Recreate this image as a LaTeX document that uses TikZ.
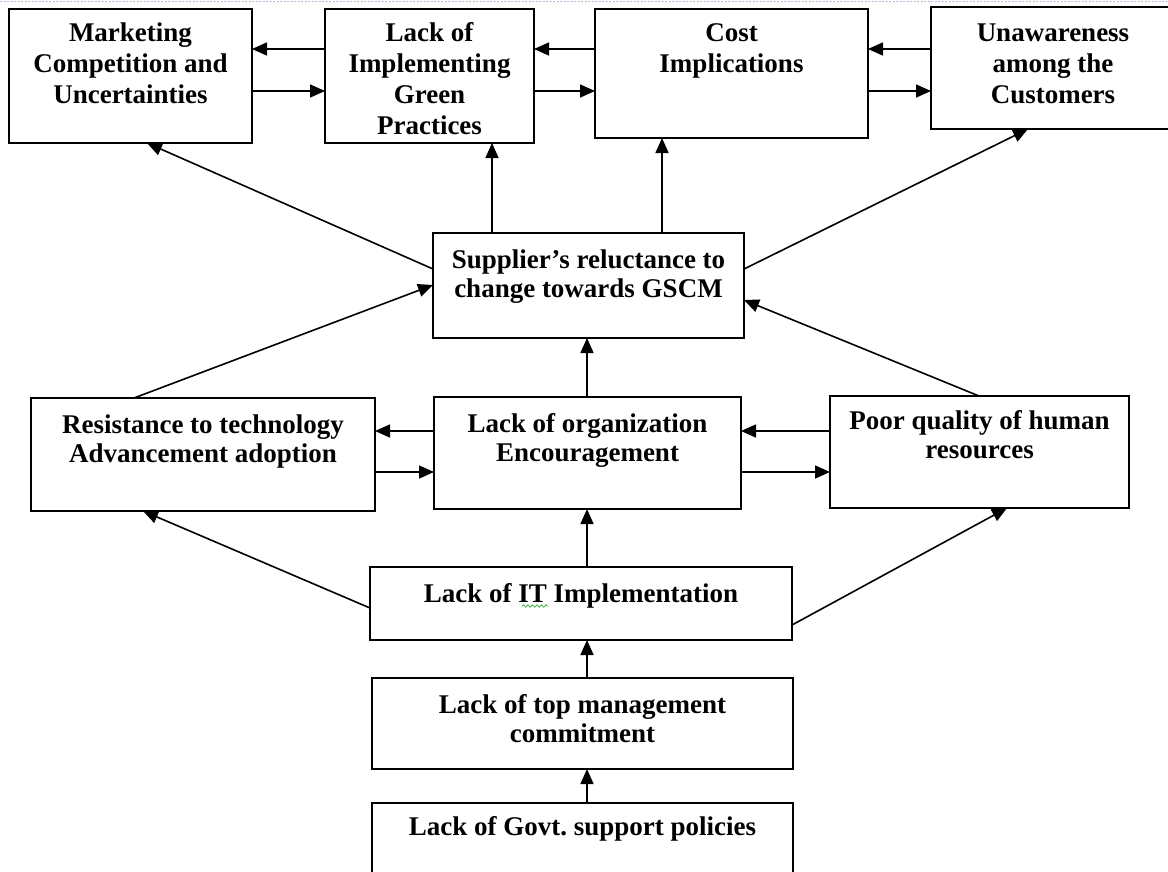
\documentclass[tikz,border=0pt]{standalone}
\usepackage{fontspec}
\setmainfont{Liberation Serif}
\usetikzlibrary{arrows.meta,calc,decorations.pathmorphing}

\definecolor{pageedge}{RGB}{175,190,210}
\definecolor{spellgreen}{RGB}{40,170,40}

% text block of a box: fixed size, lines centred and hung from the top
\newcommand{\boxtext}[4][35pt]{\parbox[c][#3][t]{#2}{\centering\rule{0pt}{#1}#4}}

\tikzset{
  box/.style={draw, line width=1.6pt, inner sep=0pt, outer sep=0pt,
              anchor=north west, font=\fontsize{27}{31}\selectfont\bfseries},
  boxlow/.style={box, font=\fontsize{27}{29}\selectfont\bfseries},
  arr/.style={line width=1.6pt, -{Triangle[length=15pt,width=13pt]}}
}

\begin{document}
\frenchspacing
\begin{tikzpicture}[x=1pt,y=-1pt]
\useasboundingbox (0,0) rectangle (1168,871);

% faint dashed page edge along the top
\draw[pageedge, line width=0.8pt, dash pattern=on 2pt off 1.5pt] (0,1) -- (1168,1);

% top row
\node[box] (mkt) at (9,9) {\boxtext[32pt]{243pt}{134pt}{Marketing\\Competition and\\Uncertainties}};
\node[box] (impl) at (325,9) {\boxtext[32pt]{209pt}{134pt}{Lack of\\Implementing\\Green\\Practices}};
\node[box] (cost) at (595,9) {\boxtext[32pt]{273pt}{129pt}{Cost\\Implications}};
\node[box] (unaw) at (931,7) {\boxtext[34pt]{244pt}{122pt}{Unawareness\\among the\\Customers}};

% centre
\node[boxlow] (sup) at (433,233) {\boxtext[35pt]{311pt}{105pt}{Supplier’s reluctance to\\change towards GSCM}};

% middle row
\node[boxlow] (res) at (31,398) {\boxtext[35pt]{344pt}{113pt}{Resistance to technology\\Advancement adoption}};
\node[boxlow] (org) at (434,397) {\boxtext[35pt]{307pt}{112pt}{Lack of organization\\Encouragement}};
\node[boxlow] (poor) at (830,396) {\boxtext[33pt]{299pt}{112pt}{Poor quality of human\\resources}};

% lower chain
\node[boxlow] (it) at (370,567) {\boxtext[35pt]{422pt}{73pt}{Lack of IT Implementation}};
\node[boxlow] (top) at (372,678) {\boxtext[35pt]{421pt}{91pt}{Lack of top management\\commitment}};
\node[boxlow] (gov) at (372,803) {\boxtext[32pt]{421pt}{77pt}{Lack of Govt.\ support policies}};

% wavy underline beneath "IT"
\draw[spellgreen, line width=0.7pt, decorate,
      decoration={snake, amplitude=1.2pt, segment length=4.5pt}]
  ($(it.north west)+(152,39)$) -- ($(it.north west)+(178,39)$);

% two-way links along the top row
\draw[arr] ($(impl.north west)+(0,40)$) -- ($(mkt.north east)+(0,40)$);
\draw[arr] ($(mkt.north east)+(0,82)$) -- ($(impl.north west)+(0,82)$);
\draw[arr] ($(cost.north west)+(0,40)$) -- ($(impl.north east)+(0,40)$);
\draw[arr] ($(impl.north east)+(0,82)$) -- ($(cost.north west)+(0,82)$);
\draw[arr] ($(unaw.north west)+(0,42)$) -- ($(cost.north east)+(0,40)$);
\draw[arr] ($(cost.north east)+(0,82)$) -- ($(unaw.north west)+(0,84)$);

% supplier reluctance feeding the top row
\draw[arr] ($(sup.north west)+(0,36)$) -- ($(mkt.south west)+(138,0)$);
\draw[arr] ($(sup.north west)+(59,0)$) -- ($(impl.south west)+(167,0)$);
\draw[arr] ($(sup.north west)+(229,0)$) -- ($(cost.south west)+(67,0)$);
\draw[arr] ($(sup.north east)+(0,36)$) -- ($(unaw.south west)+(97,0)$);

% middle row feeding supplier reluctance
\draw[arr] ($(res.north west)+(103,0)$) -- ($(sup.north west)+(0,52)$);
\draw[arr] ($(org.north west)+(153,0)$) -- ($(sup.south west)+(154,0)$);
\draw[arr] ($(poor.north west)+(149,0)$) -- ($(sup.north east)+(0,67)$);

% two-way links along the middle row
\draw[arr] ($(org.north west)+(0,34)$) -- ($(res.north east)+(0,33)$);
\draw[arr] ($(res.north east)+(0,74)$) -- ($(org.north west)+(0,75)$);
\draw[arr] ($(poor.north west)+(0,35)$) -- ($(org.north east)+(0,34)$);
\draw[arr] ($(org.north east)+(0,75)$) -- ($(poor.north west)+(0,76)$);

% IT implementation feeding the middle row
\draw[arr] ($(it.north west)+(0,41)$) -- ($(res.south west)+(112,0)$);
\draw[arr] ($(it.north west)+(217,0)$) -- ($(org.south west)+(153,0)$);
\draw[arr] ($(it.north east)+(0,58)$) -- ($(poor.south west)+(177,0)$);

% bottom chain
\draw[arr] ($(top.north west)+(215,0)$) -- ($(it.south west)+(217,0)$);
\draw[arr] ($(gov.north west)+(215,0)$) -- ($(top.south west)+(215,0)$);
\end{tikzpicture}
\end{document}
